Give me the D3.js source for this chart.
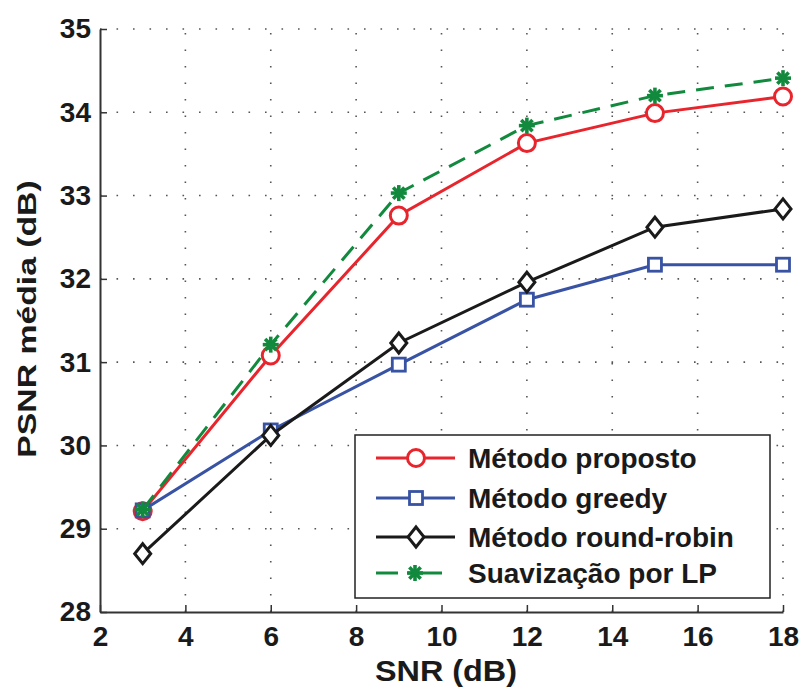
<!DOCTYPE html>
<html>
<head>
<meta charset="utf-8">
<script src="https://cdn.jsdelivr.net/npm/d3@7"></script>
<style>
  body { margin: 0; background: #fff; }
  text { font-family: "Liberation Sans", Arial, sans-serif; font-weight: bold; fill: #1a1a1a; }
</style>
</head>
<body>
<svg id="chart" width="802" height="695"></svg>
<script>
const snr = [3, 6, 9, 12, 15, 18];
const proposto = [29.21, 31.08, 32.76, 33.63, 33.99, 34.19];
const greedy = [29.22, 30.18, 30.97, 31.75, 32.17, 32.17];
const roundRobin = [28.70, 30.12, 31.23, 31.96, 32.62, 32.84];
const suavizacao = [29.23, 31.21, 33.03, 33.84, 34.20, 34.41];
const xTicks = [2, 4, 6, 8, 10, 12, 14, 16, 18];
const yTicks = [28, 29, 30, 31, 32, 33, 34, 35];

const series = [
  { name: 'Método proposto', values: proposto, color: '#e8252d', marker: 'circle', dash: null },
  { name: 'Método greedy', values: greedy, color: '#3953a4', marker: 'square', dash: null },
  { name: 'Método round-robin', values: roundRobin, color: '#1a1a1a', marker: 'diamond', dash: null },
  { name: 'Suavização por LP', values: suavizacao, color: '#128a3e', marker: 'star', dash: '18,11' }
];

const svg = d3.select('#chart');
const margin = { left: 100, right: 19, top: 29, bottom: 83 };
const W = 802, H = 695;

const x = d3.scaleLinear().domain([2, 18]).range([margin.left, W - margin.right]);
const y = d3.scaleLinear().domain([28, 35]).range([H - margin.bottom, margin.top]);

// grid
const grid = svg.append('g').attr('stroke', '#555').attr('stroke-width', 1.6)
  .attr('stroke-dasharray', '1.6,14.9');
grid.selectAll('.gx').data(xTicks.slice(1)).join('line')
  .attr('x1', d => x(d)).attr('x2', d => x(d))
  .attr('y1', y(28)).attr('y2', y(35));
grid.selectAll('.gy').data(yTicks.slice(1)).join('line')
  .attr('x1', x(2)).attr('x2', x(18))
  .attr('y1', d => y(d)).attr('y2', d => y(d));

// axes
const xAxis = svg.append('g').attr('transform', `translate(0,${y(28)})`)
  .call(d3.axisBottom(x).tickValues(xTicks).tickSize(-7).tickPadding(14).tickSizeOuter(0));
const yAxis = svg.append('g').attr('transform', `translate(${x(2)},0)`)
  .call(d3.axisLeft(y).tickValues(yTicks).tickFormat(d3.format('d'))
    .tickSize(-7).tickPadding(9).tickSizeOuter(0));
[xAxis, yAxis].forEach(a => {
  a.select('.domain').attr('stroke', '#333').attr('stroke-width', 2);
  a.selectAll('.tick line').attr('stroke', '#333').attr('stroke-width', 1.5);
  a.selectAll('.tick text').attr('font-size', 28).attr('fill', '#1a1a1a');
});
xAxis.selectAll('.tick text').attr('dy', '0.71em');

svg.append('text').attr('x', 446).attr('y', 681).attr('text-anchor', 'middle')
  .attr('font-size', 29).attr('textLength', 142).attr('lengthAdjust', 'spacingAndGlyphs')
  .text('SNR (dB)');
// y title is stretched along its length in the reference
svg.append('text').attr('transform', 'translate(27,319) rotate(-90) scale(1.35,1)')
  .attr('text-anchor', 'middle').attr('font-size', 25)
  .attr('dy', '0.36em')
  .text('PSNR média (dB)');

function drawMarker(g, type, color) {
  if (type === 'circle') {
    g.append('circle').attr('r', 8.5).attr('fill', '#fff').attr('stroke', color).attr('stroke-width', 3);
  } else if (type === 'square') {
    g.append('rect').attr('x', -6.5).attr('y', -6.5).attr('width', 13).attr('height', 13)
      .attr('fill', '#fff').attr('stroke', color).attr('stroke-width', 2.8);
  } else if (type === 'diamond') {
    g.append('path').attr('d', 'M0,-10L8,0L0,10L-8,0Z')
      .attr('fill', '#fff').attr('stroke', color).attr('stroke-width', 3);
  } else {
    const r = 8;
    [0, 45, 90, 135].forEach(a => {
      const rad = a * Math.PI / 180;
      g.append('line').attr('x1', -r * Math.cos(rad)).attr('y1', -r * Math.sin(rad))
        .attr('x2', r * Math.cos(rad)).attr('y2', r * Math.sin(rad))
        .attr('stroke', color).attr('stroke-width', 3.6);
    });
    g.append('circle').attr('r', 3.5).attr('fill', color);
  }
}

const line = d3.line().x(d => x(d[0])).y(d => y(d[1]));
series.forEach(s => {
  const pts = snr.map((v, i) => [v, s.values[i]]);
  svg.append('path').datum(pts).attr('d', line).attr('fill', 'none')
    .attr('stroke', s.color).attr('stroke-width', 3)
    .attr('stroke-dasharray', s.dash);
  pts.forEach(p => {
    drawMarker(svg.append('g').attr('transform', `translate(${x(p[0])},${y(p[1])})`), s.marker, s.color);
  });
});

// legend
const lg = svg.append('g').attr('transform', 'translate(355,435)');
lg.append('rect').attr('width', 415).attr('height', 163).attr('fill', '#fff')
  .attr('stroke', '#222').attr('stroke-width', 1.5);
const rowY = [23, 63, 102, 138];
series.forEach((s, i) => {
  const row = lg.append('g').attr('transform', `translate(0,${rowY[i]})`);
  if (s.dash) {
    row.append('line').attr('x1', 21).attr('x2', 43).attr('y1', 0).attr('y2', 0)
      .attr('stroke', s.color).attr('stroke-width', 3);
    row.append('line').attr('x1', 53).attr('x2', 87).attr('y1', 0).attr('y2', 0)
      .attr('stroke', s.color).attr('stroke-width', 3);
  } else {
    row.append('line').attr('x1', 21).attr('x2', 100).attr('y1', 0).attr('y2', 0)
      .attr('stroke', s.color).attr('stroke-width', 3);
  }
  drawMarker(row.append('g').attr('transform', `translate(${s.dash ? 60 : 61},0)`), s.marker, s.color);
  row.append('text').attr('x', 113).attr('y', 0).attr('dy', '0.35em')
    .attr('font-size', 28).text(s.name);
});
</script>
</body>
</html>
